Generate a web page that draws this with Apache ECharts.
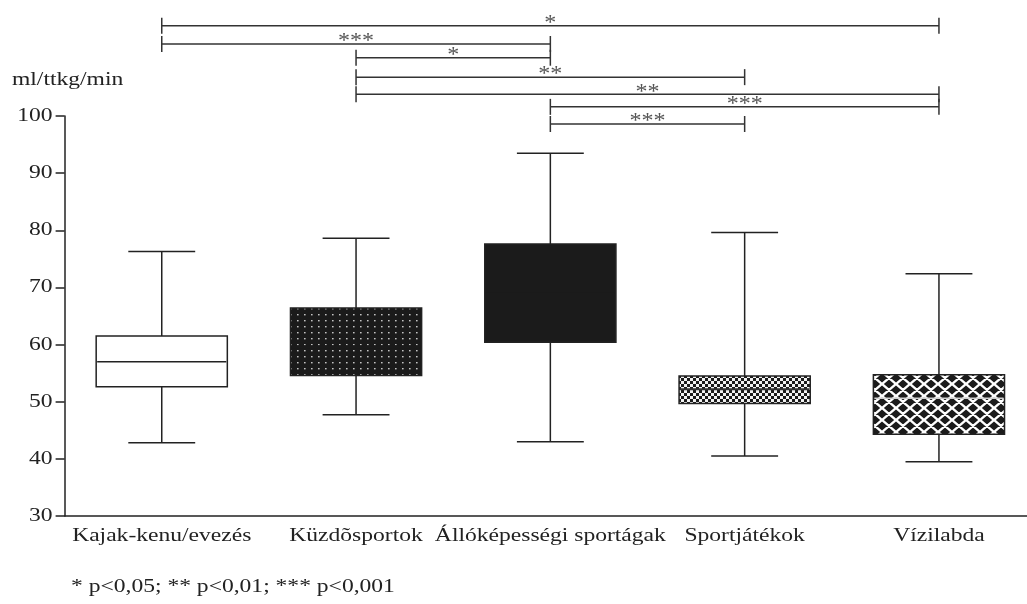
<!DOCTYPE html>
<html>
<head>
<meta charset="utf-8">
<script src="https://cdn.jsdelivr.net/npm/echarts@6/dist/echarts.min.js"></script>
<style>
  html, body { margin: 0; padding: 0; background: #ffffff; overflow: hidden; }
  #chart { width: 1045px; height: 604px; }
</style>
</head>
<body>
<div id="chart"></div>
<script>
// Sport groups on the category axis
const categories = ['Kajak-kenu/evezés', 'Küzdõsportok', 'Állóképességi sportágak', 'Sportjátékok', 'Vízilabda'];

// Box-and-whisker values per group (ml/ttkg/min)
const whiskerLow  = [42.8, 47.7, 43.0, 40.5, 39.5];
const quartile1   = [52.6, 54.6, 60.4, 49.7, 44.3];
const medians     = [57.0, 59.6, 69.0, 52.2, 50.6];
const quartile3   = [61.5, 66.4, 77.6, 54.5, 54.7];
const whiskerHigh = [76.3, 78.6, 93.5, 79.6, 72.4];

// Value axis ticks
const yTicks = [30, 40, 50, 60, 70, 80, 90, 100];

// Pairwise significance brackets: group indices, height on the value scale, marker
const bracketFrom  = [0, 0, 1, 1, 1, 2, 2];
const bracketTo    = [4, 2, 2, 3, 4, 4, 3];
const bracketLevel = [115.8, 112.6, 110.2, 106.8, 103.8, 101.6, 98.6];
const bracketMark  = ['*', '***', '*', '**', '**', '***', '***'];

const unitLabel = 'ml/ttkg/min';
const footnote = '* p<0,05; ** p<0,01; *** p<0,001';

const SERIF = '"Liberation Serif", "Times New Roman", serif';
const INK = '#222222';
const DARK = '#1b1b1b';
const WIDE = 1.24;   // wide-set serif lettering

// Tile builders for the hatched box fills
function makeTile(w, h, draw) {
  const c = document.createElement('canvas');
  c.width = w; c.height = h;
  const ctx = c.getContext('2d');
  draw(ctx, w, h);
  return { image: c, repeat: 'repeat' };
}

const dotFill = makeTile(7, 6, (ctx, w, h) => {
  ctx.fillStyle = DARK; ctx.fillRect(0, 0, w, h);
  ctx.fillStyle = '#c4c4c4'; ctx.fillRect(3, 2, 1.6, 1.4);
});

const checkFill = makeTile(6, 6, (ctx, w, h) => {
  ctx.fillStyle = DARK; ctx.fillRect(0, 0, w, h);
  ctx.fillStyle = '#f2f2f2';
  ctx.fillRect(0, 0, 3, 3); ctx.fillRect(3, 3, 3, 3);
});

const latticeFill = makeTile(14, 12, (ctx, w, h) => {
  ctx.fillStyle = DARK; ctx.fillRect(0, 0, w, h);
  ctx.strokeStyle = '#ffffff'; ctx.lineWidth = 2.4;
  ctx.beginPath();
  ctx.moveTo(-w, -h); ctx.lineTo(2 * w, 2 * h);
  ctx.moveTo(2 * w, -h); ctx.lineTo(-w, 2 * h);
  ctx.moveTo(-w, 0); ctx.lineTo(w, 2 * h);
  ctx.moveTo(0, -h); ctx.lineTo(2 * w, h);
  ctx.moveTo(w, -h); ctx.lineTo(-w, h);
  ctx.moveTo(2 * w, 0); ctx.lineTo(0, 2 * h);
  ctx.stroke();
});

// Appearance of each group's box
const boxLook = [
  { fill: '#ffffff', median: INK, medianWidth: 1.5 },
  { fill: dotFill, median: DARK, medianWidth: 3 },
  { fill: DARK, median: DARK, medianWidth: 1.5 },
  { fill: checkFill, median: '#333333', medianWidth: 2 },
  { fill: latticeFill, median: '#d0d0d0', medianWidth: 1.5 }
];

const boxData = categories.map((c, i) => [i, whiskerLow[i], quartile1[i], medians[i], quartile3[i], whiskerHigh[i]]);
const bracketData = bracketFrom.map((f, i) => [f, bracketTo[i], bracketLevel[i], i]);
const xLabelData = categories.map((c, i) => [i, yTicks[0]]);
const yLabelData = yTicks.map(v => [0, v]);

function renderBox(params, api) {
  const i = api.value(0);
  const pLow = api.coord([i, api.value(1)]);
  const pQ1 = api.coord([i, api.value(2)]);
  const pMed = api.coord([i, api.value(3)]);
  const pQ3 = api.coord([i, api.value(4)]);
  const pHigh = api.coord([i, api.value(5)]);
  const band = api.size([1, 0])[0];
  const boxW = band * 0.675;
  const capW = boxW * 0.51;
  const x = pLow[0];
  const look = boxLook[i];
  const line = { stroke: INK, lineWidth: 1.5 };
  return {
    type: 'group',
    children: [
      { type: 'line', shape: { x1: x, y1: pHigh[1], x2: x, y2: pQ3[1] }, style: line },
      { type: 'line', shape: { x1: x, y1: pQ1[1], x2: x, y2: pLow[1] }, style: line },
      { type: 'line', shape: { x1: x - capW / 2, y1: pHigh[1], x2: x + capW / 2, y2: pHigh[1] }, style: line },
      { type: 'line', shape: { x1: x - capW / 2, y1: pLow[1], x2: x + capW / 2, y2: pLow[1] }, style: line },
      { type: 'rect', shape: { x: x - boxW / 2, y: pQ3[1], width: boxW, height: pQ1[1] - pQ3[1] },
        style: { fill: look.fill, stroke: INK, lineWidth: 1.5 } },
      { type: 'line', shape: { x1: x - boxW / 2 + 1, y1: pMed[1], x2: x + boxW / 2 - 1, y2: pMed[1] },
        style: { stroke: look.median, lineWidth: look.medianWidth } }
    ]
  };
}

function renderBracket(params, api) {
  const a = api.coord([api.value(0), api.value(2)]);
  const b = api.coord([api.value(1), api.value(2)]);
  const k = api.value(3);
  const end = 8;
  const line = { stroke: '#333333', lineWidth: 1.5 };
  return {
    type: 'group',
    children: [
      { type: 'line', shape: { x1: a[0], y1: a[1], x2: b[0], y2: b[1] }, style: line },
      { type: 'line', shape: { x1: a[0], y1: a[1] - end, x2: a[0], y2: a[1] + end }, style: line },
      { type: 'line', shape: { x1: b[0], y1: b[1] - end, x2: b[0], y2: b[1] + end }, style: line },
      { type: 'text', x: (a[0] + b[0]) / 2, y: a[1] + 8, scaleX: 1.2,
        style: { text: bracketMark[k], x: 0, y: 0, fill: '#555555', font: '20px ' + SERIF,
                 align: 'center', verticalAlign: 'bottom' } }
    ]
  };
}

// Category names under the axis
function renderXLabel(params, api) {
  const p = api.coord([api.value(0), api.value(1)]);
  return {
    type: 'text', x: p[0], y: p[1] + 11, scaleX: WIDE,
    style: { text: categories[params.dataIndex], x: 0, y: 0, fill: INK, font: '19px ' + SERIF,
             align: 'center', verticalAlign: 'top' }
  };
}

// Value labels left of the axis
function renderYLabel(params, api) {
  const p = api.coord([0, api.value(1)]);
  return {
    type: 'text', x: params.coordSys.x - 12, y: p[1], scaleX: WIDE,
    style: { text: String(yTicks[params.dataIndex]), x: 0, y: 0, fill: INK, font: '19px ' + SERIF,
             align: 'right', verticalAlign: 'middle' }
  };
}

const chart = echarts.init(document.getElementById('chart'), null, { renderer: 'canvas' });
chart.setOption({
  animation: false,
  backgroundColor: '#ffffff',
  grid: { left: 64.6, top: 116, width: 971.5, height: 400, containLabel: false },
  xAxis: {
    type: 'category',
    data: categories,
    boundaryGap: true,
    axisLine: { lineStyle: { color: INK, width: 1.5 } },
    axisTick: { alignWithLabel: true, length: 8, lineStyle: { color: INK, width: 1.5 } },
    axisLabel: { show: false },
    splitLine: { show: false }
  },
  yAxis: {
    type: 'value',
    min: yTicks[0],
    max: yTicks[yTicks.length - 1],
    interval: yTicks[1] - yTicks[0],
    axisLine: { show: true, lineStyle: { color: INK, width: 1.5 } },
    axisTick: { show: true, length: 9, lineStyle: { color: INK, width: 1.5 } },
    axisLabel: { show: false },
    splitLine: { show: false }
  },
  graphic: [
    { type: 'text', x: 12, y: 80, scaleX: WIDE,
      style: { text: unitLabel, x: 0, y: 0, font: '19px ' + SERIF, fill: INK, verticalAlign: 'middle' } },
    { type: 'text', x: 71, y: 587, scaleX: WIDE,
      style: { text: footnote, x: 0, y: 0, font: '19px ' + SERIF, fill: INK, verticalAlign: 'middle' } }
  ],
  series: [
    { type: 'custom', name: 'boxes', data: boxData, renderItem: renderBox, clip: false,
      encode: { x: 0, y: [1, 2, 3, 4, 5] } },
    { type: 'custom', name: 'brackets', data: bracketData, renderItem: renderBracket, clip: false,
      encode: { x: [0, 1], y: 2 } },
    { type: 'custom', name: 'categoryNames', data: xLabelData, renderItem: renderXLabel, clip: false,
      encode: { x: 0, y: 1 }, silent: true },
    { type: 'custom', name: 'valueNames', data: yLabelData, renderItem: renderYLabel, clip: false,
      encode: { x: 0, y: 1 }, silent: true }
  ]
});
</script>
</body>
</html>
